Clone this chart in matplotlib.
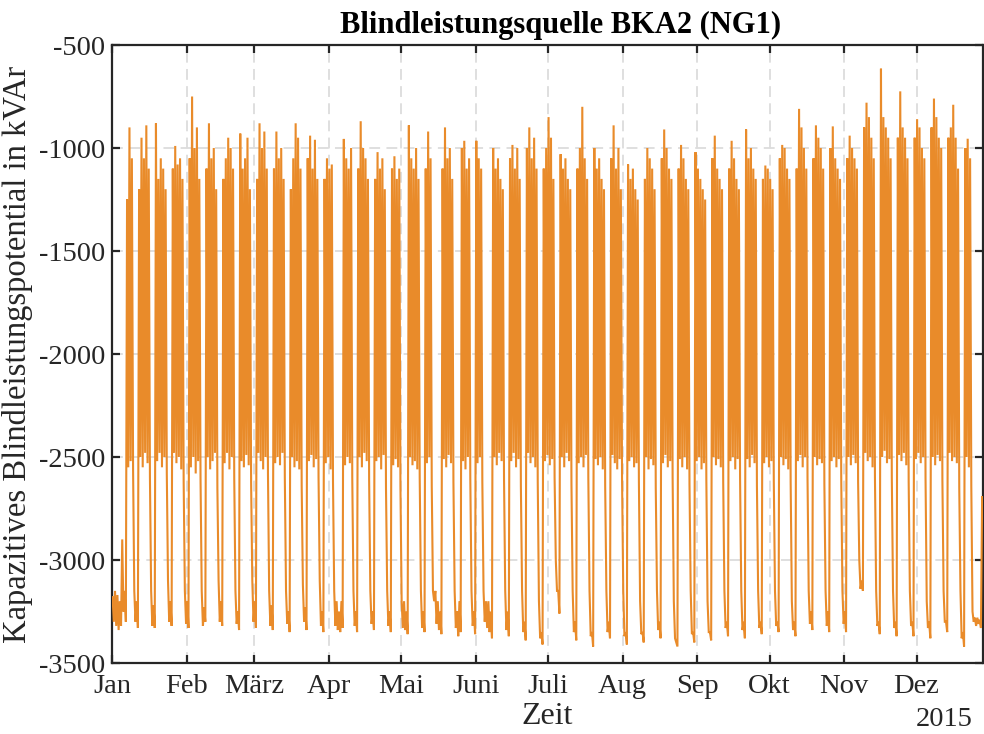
import numpy as np
import pandas as pd
import matplotlib
matplotlib.use("Agg")
import matplotlib.pyplot as plt

# Daily maxima / minima of the reactive power potential (kVAr), 2015-01-01 .. 2015-12-28
# rows: Jan1-4 (Thu-Sun), then one row per week Mon..Sun
daily_max = [
    -3180, -3150, -3170, -3200,
    -2900, -3150, -1250, -900, -1050, -3150, -3200,
    -1200, -950, -1050, -890, -1100, -3150, -3220,
    -880, -1150, -1050, -1100, -1200, -3100, -3200,
    -1100, -990, -1080, -1050, -1150, -3150, -3200,
    -1050, -750, -1000, -900, -1150, -3150, -3230,
    -1100, -880, -1050, -1000, -1200, -3100, -3200,
    -1150, -1050, -950, -1000, -1100, -3150, -3250,
    -930, -1100, -1050, -950, -1200, -3100, -3200,
    -1150, -880, -1000, -920, -1100, -3150, -3220,
    -1100, -920, -1050, -1000, -1150, -3150, -3250,
    -1200, -1050, -880, -950, -1100, -3120, -3230,
    -1050, -940, -1100, -960, -1150, -3100, -3250,
    -1150, -1050, -1100, -1080, -3150, -3200, -3250,
    -3200, -956, -1050, -1100, -1000, -3150, -3250,
    -1100, -870, -1000, -1050, -1150, -3150, -3250,
    -1150, -1020, -1100, -1050, -1200, -3150, -3250,
    -1100, -1040, -1150, -1100, -3200, -3200, -3250,
    -890, -1050, -1100, -1000, -1150, -3150, -3250,
    -1100, -920, -1050, -3150, -3150, -3200, -3250,
    -1100, -900, -1050, -1000, -1150, -3150, -3250,
    -3200, -1000, -965, -1100, -1050, -3150, -3250,
    -965, -1050, -1100, -3150, -3200, -3200, -3250,
    -1000, -1100, -1050, -1150, -1200, -3150, -3250,
    -1050, -985, -1100, -1000, -1150, -3150, -3300,
    -1000, -900, -1050, -950, -1100, -3200, -3350,
    -1100, -1000, -850, -950, -1150, -3000, -3150,
    -1030, -1100, -1050, -1150, -1200, -3150, -3300,
    -1100, -1000, -800, -1050, -1150, -3150, -3350,
    -1000, -1100, -1050, -1150, -1200, -3150, -3300,
    -1050, -890, -1100, -1000, -1200, -3150, -3350,
    -1080, -1150, -1100, -1200, -1250, -3200, -3350,
    -1150, -1000, -1050, -1100, -1200, -3150, -3300,
    -1050, -910, -1000, -1100, -1150, -3200, -3400,
    -1100, -985, -1050, -1150, -1200, -3150, -3350,
    -1020, -1100, -1150, -1200, -1250, -3200, -3350,
    -1050, -940, -1100, -1150, -1200, -3150, -3300,
    -1100, -965, -1050, -1150, -1200, -3150, -3300,
    -910, -1050, -1000, -1100, -1150, -3150, -3300,
    -1150, -1085, -1100, -1150, -1200, -3150, -3300,
    -1050, -985, -1000, -1100, -1150, -3200, -3300,
    -1100, -810, -900, -1000, -1100, -3150, -3250,
    -1050, -890, -950, -1000, -1100, -3150, -3250,
    -1000, -895, -1050, -1100, -1150, -3150, -3250,
    -1050, -940, -1000, -1050, -1100, -3000, -3100,
    -900, -780, -850, -950, -1050, -3150, -3300,
    -615, -850, -900, -950, -1050, -3150, -3300,
    -950, -725, -900, -950, -1050, -3150, -3300,
    -950, -860, -900, -1000, -1050, -3200, -3300,
    -900, -760, -850, -950, -1000, -3150, -3300,
    -950, -900, -790, -950, -1100, -3150, -3350,
    -1000, -955, -1050, -3250, -3280, -3280, -3290,
    -2690,
]

daily_min = [
    -3300, -3320, -3340, -3320,
    -3250, -3300, -2550, -2520, -2560, -3300, -3330,
    -2500, -2550, -2480, -2530, -2600, -3320, -3330,
    -2520, -2480, -2550, -2500, -2580, -3300, -3320,
    -2480, -2530, -2500, -2560, -2620, -3310, -3330,
    -2550, -2500, -2580, -2520, -2600, -3320, -3300,
    -2500, -2560, -2520, -2480, -2650, -3300, -3320,
    -2530, -2480, -2560, -2500, -2600, -3310, -3340,
    -2520, -2550, -2490, -2540, -2620, -3300, -3330,
    -2480, -2520, -2560, -2500, -2580, -3320, -3340,
    -2530, -2500, -2540, -2480, -2600, -3310, -3350,
    -2500, -2550, -2520, -2560, -2640, -3300, -3340,
    -2520, -2490, -2550, -2510, -2600, -3320, -3350,
    -2530, -2500, -2560, -2620, -3320, -3340, -3350,
    -3330, -2540, -2500, -2530, -2600, -3320, -3350,
    -2500, -2550, -2480, -2520, -2610, -3310, -3340,
    -2520, -2500, -2560, -2490, -2650, -3320, -3350,
    -2540, -2510, -2550, -2640, -3330, -3340, -3360,
    -2500, -2540, -2520, -2560, -2600, -3330, -3350,
    -2530, -2500, -2640, -3200, -3310, -3340, -3360,
    -2510, -2550, -2490, -2530, -2620, -3330, -3370,
    -3350, -2520, -2560, -2500, -2600, -3320, -3360,
    -2530, -2500, -2620, -3300, -3330, -3350, -3380,
    -2500, -2540, -2480, -2520, -2600, -3340, -3370,
    -2520, -2480, -2550, -2510, -2640, -3350, -3390,
    -2480, -2530, -2500, -2550, -2620, -3380, -3410,
    -2520, -2490, -2540, -2510, -2600, -3150, -3260,
    -2500, -2550, -2480, -2520, -2630, -3350, -3390,
    -2530, -2500, -2550, -2490, -2600, -3370, -3420,
    -2510, -2540, -2500, -2560, -2640, -3350, -3380,
    -2490, -2530, -2560, -2510, -2600, -3370, -3410,
    -2520, -2500, -2550, -2530, -2620, -3360, -3400,
    -2500, -2560, -2510, -2540, -2650, -3340, -3380,
    -2530, -2490, -2550, -2520, -2600, -3380, -3420,
    -2510, -2550, -2500, -2560, -2630, -3360, -3400,
    -2520, -2500, -2560, -2530, -2610, -3350, -3390,
    -2500, -2540, -2510, -2550, -2620, -3330, -3370,
    -2520, -2500, -2560, -2510, -2600, -3340, -3380,
    -2510, -2550, -2490, -2530, -2640, -3330, -3360,
    -2530, -2500, -2550, -2520, -2610, -3320, -3350,
    -2500, -2540, -2510, -2560, -2620, -3340, -3370,
    -2520, -2490, -2550, -2500, -2600, -3310, -3340,
    -2500, -2540, -2510, -2530, -2630, -3320, -3350,
    -2520, -2500, -2550, -2510, -2600, -3310, -3350,
    -2500, -2540, -2490, -2530, -2620, -3140, -3150,
    -2480, -2520, -2500, -2550, -2600, -3320, -3360,
    -2500, -2470, -2530, -2510, -2600, -3330, -3370,
    -2490, -2520, -2480, -2540, -2620, -3320, -3370,
    -2510, -2480, -2530, -2500, -2600, -3330, -3380,
    -2500, -2540, -2490, -2520, -2610, -3300, -3350,
    -2480, -2520, -2500, -2530, -2650, -3380, -3420,
    -2500, -2550, -2640, -3300, -3320, -3310, -3330,
    -2800,
]

month_labels = ['Jan', 'Feb', 'März', 'Apr', 'Mai', 'Juni', 'Juli', 'Aug',
                'Sep', 'Okt', 'Nov', 'Dez']
y_ticks = [-3500, -3000, -2500, -2000, -1500, -1000, -500]

title = 'Blindleistungsquelle BKA2 (NG1)'
xlabel = 'Zeit'
ylabel = 'Kapazitives Blindleistungspotential in kVAr'
year_label = '2015'

# build the time series: daily peak in the morning, daily minimum in the evening
days = pd.date_range('2015-01-01', periods=len(daily_max), freq='D')
t_hi = days + pd.Timedelta(hours=6)
t_lo = days + pd.Timedelta(hours=18)
t = np.empty(2 * len(days), dtype='datetime64[ns]')
v = np.empty(2 * len(days))
t[0::2] = t_hi.values
t[1::2] = t_lo.values
v[0::2] = daily_max
v[1::2] = daily_min

plt.rcParams['font.family'] = ['Liberation Serif', 'DejaVu Serif']

fig = plt.figure(figsize=(9.84, 7.34), dpi=100)
ax = fig.add_axes([112 / 984, 1 - 663 / 734, (982.5 - 112) / 984, (663 - 45) / 734])

ax.plot(t, v, color='#E98B2A', lw=1.5, zorder=3, solid_joinstyle='miter')

start = pd.Timestamp('2015-01-01')
ax.set_xlim(start, start + pd.Timedelta(days=361.4))
ax.set_ylim(-3500, -500)

month_ticks = pd.date_range('2015-01-01', periods=12, freq='MS')
ax.set_xticks(month_ticks)
ax.set_xticklabels(month_labels)
ax.set_yticks(y_ticks)
ax.set_yticklabels([str(y) for y in y_ticks])

ax.grid(True, color='#dcdcdc', lw=1.3, linestyle=(0, (6, 3.5)), zorder=0)
ax.set_axisbelow(True)

for s in ax.spines.values():
    s.set_linewidth(1.6)
    s.set_color('#262626')
ax.tick_params(axis='both', direction='in', length=6, width=1.6, color='#262626',
               labelsize=20.5, labelcolor='#262626', top=True, right=True)
ax.tick_params(axis='x', pad=8)
ax.tick_params(axis='y', pad=5)

ax.set_title(title, fontsize=22, fontweight='bold', color='black', pad=9, x=0.515)
ax.set_xlabel(xlabel, fontsize=23, color='#262626', labelpad=2)
ax.set_ylabel(ylabel, fontsize=23.5, color='#262626', labelpad=4)
ax.text(0.989, -0.072, year_label, transform=ax.transAxes, ha='right', va='top',
        fontsize=20.5, color='#262626')

fig.savefig('out.png', dpi=100)
